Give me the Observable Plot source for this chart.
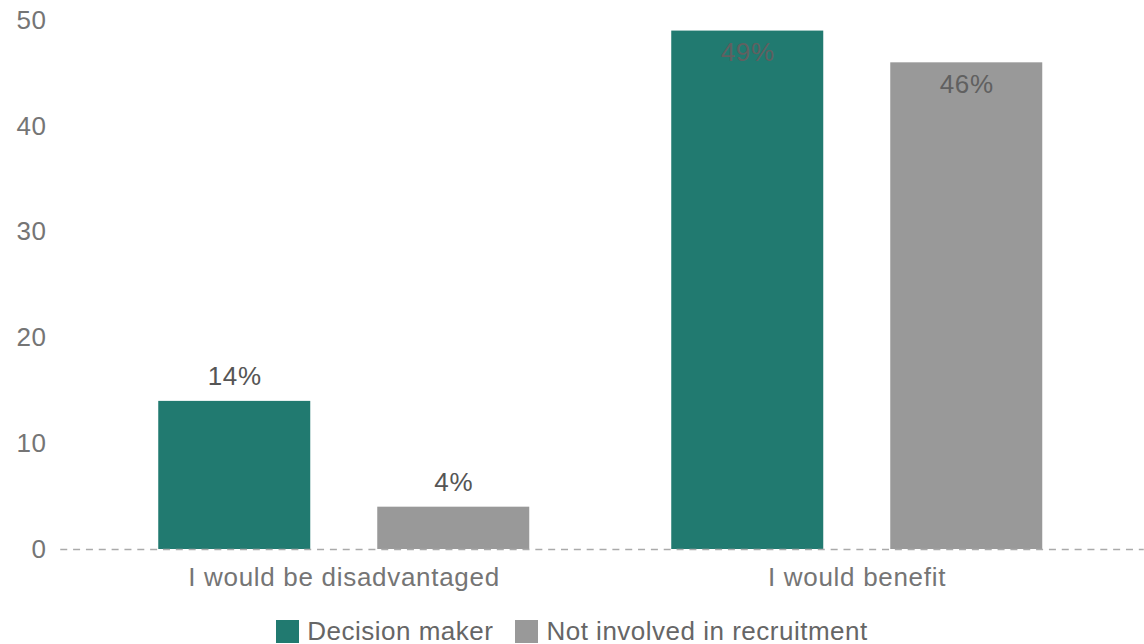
<!DOCTYPE html>
<html><head><meta charset="utf-8">
<script src="https://cdn.jsdelivr.net/npm/d3@7"></script>
<script src="https://cdn.jsdelivr.net/npm/@observablehq/plot@0.6"></script>
<style>
body{margin:0;background:#fff;font-family:"Liberation Sans",Arial,sans-serif;}
#chart svg text{letter-spacing:0.7px}
.legend{display:flex;justify-content:center;align-items:center;height:36px;padding-top:5px;}
.legend .item{display:flex;align-items:center;margin:0 11px;font-size:26px;letter-spacing:0.5px;color:#666;}
.legend .sw{width:23px;height:23px;margin-right:8px;}
</style></head><body><div id="chart"></div><div class="legend" id="legend"></div>
<script>
const categories = ["I would be disadvantaged", "I would benefit"];
const seriesNames = ["Decision maker", "Not involved in recruitment"];
const decisionMaker = [14, 49];
const notInvolved = [4, 46];
const seriesColors = ["#217a70", "#999999"];
const yTicks = [0, 10, 20, 30, 40, 50];

const data = categories.flatMap((c, i) => [
  {category: c, series: seriesNames[0], value: decisionMaker[i]},
  {category: c, series: seriesNames[1], value: notInvolved[i]}
]);

const chart = Plot.plot({
  width: 1144, height: 608,
  marginTop: 20, marginBottom: 59, marginLeft: 86.75, marginRight: 30.25,
  style: {fontFamily: "'Liberation Sans', Arial, sans-serif", fontSize: "26px", color: "#757575", background: "white", overflow: "visible"},
  facet: {data, x: "category"},
  fx: {domain: categories, padding: 0, label: null, axis: "bottom", tickSize: 0, tickPadding: 18},
  x: {domain: seriesNames, axis: null, paddingInner: 0.3045, paddingOuter: 0.319},
  y: {domain: [0, 50], ticks: yTicks, tickSize: 0, tickPadding: 40.75, label: null, grid: false},
  color: {domain: seriesNames, range: seriesColors},
  marks: [
    Plot.barY(data, {x: "series", y: "value", fill: "series"}),
    Plot.ruleY(data, {filter: d => d.category === categories[0] && d.series === seriesNames[0], y: () => 0, stroke: "#aaaaaa", strokeWidth: 1.5, strokeDasharray: "7,5.84", insetLeft: -26.75, insetRight: -543.75}),
    Plot.text(data, {filter: d => d.value < 40, x: "series", y: "value", text: d => d.value + "%", dy: -25, fill: "#555555"}),
    Plot.text(data, {filter: d => d.value >= 40, x: "series", y: "value", text: d => d.value + "%", dy: 22, fill: "#606060"})
  ]
});
document.getElementById("chart").appendChild(chart);

const legend = document.getElementById("legend");
seriesNames.forEach((name, i) => {
  const item = document.createElement("div");
  item.className = "item";
  const sw = document.createElement("div");
  sw.className = "sw";
  sw.style.background = seriesColors[i];
  const label = document.createElement("span");
  label.textContent = name;
  item.appendChild(sw);
  item.appendChild(label);
  legend.appendChild(item);
});
</script>
</body></html>
